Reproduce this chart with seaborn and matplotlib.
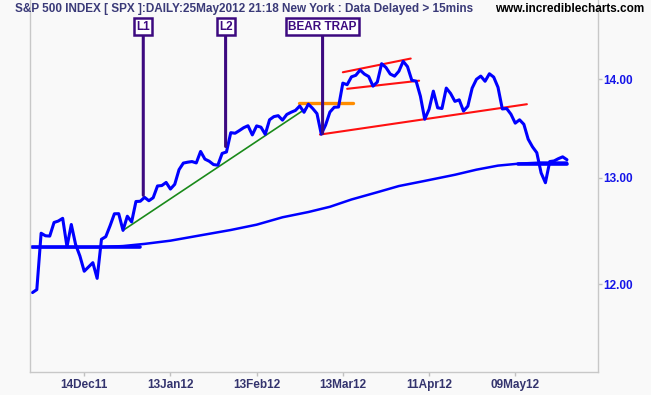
import matplotlib
matplotlib.use("Agg")
import numpy as np
import pandas as pd
import matplotlib.pyplot as plt
import seaborn as sns
from matplotlib.ticker import NullLocator

sns.set_theme(style="white")
plt.rcParams['font.family'] = ['Liberation Sans', 'DejaVu Sans']

# Daily closes (hundreds), trading day index 0 = 28 Nov 2011 ... 124 = 25 May 2012
close = [11.9255, 11.9519, 12.4696, 12.4458, 12.4428, 12.5708, 12.5847, 12.6101, 12.3435, 12.5519,
         12.3647, 12.2573, 12.1182, 12.1575, 12.1966, 12.0535, 12.4130, 12.4372, 12.5400, 12.6533,
         12.6543, 12.4964, 12.6302, 12.5760, 12.7706, 12.7730, 12.8106, 12.7781, 12.8070, 12.9208,
         12.9248, 12.9550, 12.8909, 12.9367, 13.0804, 13.1450, 13.1538, 13.1600, 13.1465, 13.2606,
         13.1843, 13.1633, 13.1301, 13.1241, 13.2409, 13.2554, 13.4490, 13.4433, 13.4705, 13.4996,
         13.5195, 13.4264, 13.5177, 13.5050, 13.4323, 13.5804, 13.6123, 13.6221, 13.5766, 13.6346,
         13.6574, 13.6759, 13.7218, 13.6568, 13.7409, 13.6963, 13.6433, 13.4336, 13.5263, 13.6591,
         13.7087, 13.7109, 13.9595, 13.9428, 14.0260, 14.0417, 14.0975, 14.0552, 14.0289, 13.9278,
         13.9711, 14.1651, 14.1252, 14.0554, 14.0328, 14.0847, 14.1904, 14.1338, 13.9896, 13.9808,
         13.8220, 13.5859, 13.6871, 13.8757, 13.7026, 13.6957, 13.9078, 13.8514, 13.7692, 13.7853,
         13.6694, 13.7197, 13.9069, 13.9998, 14.0336, 13.9791, 14.0582, 14.0231, 13.9157, 13.6910,
         13.6958, 13.6372, 13.5458, 13.5799, 13.5339, 13.3835, 13.3066, 13.2480, 13.0486, 12.9522,
         13.1599, 13.1663, 13.1886, 13.2068, 13.1782]
day = list(range(len(close)))

# Moving average
ma_day = [0, 5, 10, 16, 21, 26, 32, 39, 46, 52, 58, 64, 69, 74, 80, 85, 91, 98, 103, 108, 113, 118, 124]
ma_val = [12.34, 12.34, 12.34, 12.34, 12.35, 12.37, 12.40, 12.45, 12.50, 12.55, 12.62, 12.67, 12.72,
          12.79, 12.86, 12.92, 12.97, 13.03, 13.08, 13.12, 13.14, 13.15, 13.15]

# Horizontal blue lines (start day, end day, level)
hline_start = [0, 112.6]
hline_end = [25, 124]
hline_level = [12.34, 13.14]

# Green trendline
green_x = [21, 63.6]
green_y = [12.4964, 13.70]

# Orange resistance
orange_x = [61.9, 74.4]
orange_y = [13.75, 13.75]

# Red lines: (x0, x1, y0, y1)
red_x0 = [66.7, 72.0, 73.0]
red_x1 = [114.7, 87.75, 89.7]
red_y0 = [13.43, 14.074, 13.90]
red_y1 = [13.74, 14.22, 13.985]

# Label callouts
label_text = ["L1", "L2", "BEAR TRAP"]
label_x = [25.7, 44.8, 67.3]
label_y = [12.83, 13.31, 13.44]

xtick_days = [12, 32, 52, 72, 92, 112]
xtick_labels = ["14Dec11", "13Jan12", "13Feb12", "13Mar12", "11Apr12", "09May12"]
ytick_vals = [12, 13, 14]
ytick_labels = ["12.00", "13.00", "14.00"]

W, H = 651, 395
bg = '#F9F9F9'
fig = plt.figure(figsize=(W / 100, H / 100), dpi=100, facecolor=bg)
ax = fig.add_axes([30 / W, 23 / H, 568 / W, 372 / H])
ax.set_facecolor(bg)
ax.set_yscale('log')

price_df = pd.DataFrame({"day": day, "close": close})
ma_df = pd.DataFrame({"day": ma_day, "ma": ma_val})

sns.lineplot(data=ma_df, x="day", y="ma", ax=ax, color='#0000FF', lw=1.8, legend=False)
for s, e, lv in zip(hline_start, hline_end, hline_level):
    sns.lineplot(x=[s, e], y=[lv, lv], ax=ax, color='#0000FF', lw=2.6, legend=False)

sns.lineplot(x=green_x, y=green_y, ax=ax, color='#1A8A1A', lw=1.2, legend=False)
sns.lineplot(x=orange_x, y=orange_y, ax=ax, color='#FF8C00', lw=2.4, legend=False)
for x0, x1, y0, y1 in zip(red_x0, red_x1, red_y0, red_y1):
    sns.lineplot(x=[x0, x1], y=[y0, y1], ax=ax, color='#FF1010', lw=1.5, legend=False)

sns.lineplot(data=price_df, x="day", y="close", ax=ax, color='#0000FF', lw=2.2, legend=False)

purple = '#3D0A80'
for t, x, y in zip(label_text, label_x, label_y):
    ax.annotate(t, xy=(x, y), xytext=(x, 1 - 26.5 / 372), xycoords='data',
                textcoords=ax.get_xaxis_transform(), ha='center', va='center',
                fontsize=8.5, fontweight='bold', color=purple,
                bbox=dict(boxstyle='square,pad=0.18', fc='white', ec=purple, lw=1.8),
                arrowprops=dict(arrowstyle='-', color=purple, lw=2.2, shrinkA=0, shrinkB=0))

ax.set_xlim(-0.58, 131.2)
ax.set_ylim(11.234, 14.86)
ax.set_xlabel("")
ax.set_ylabel("")

ax.set_xticks(xtick_days)
ax.set_xticklabels(xtick_labels, fontsize=8.5, fontweight='bold', color='#34346E')
ax.yaxis.tick_right()
ax.set_yticks(ytick_vals)
ax.set_yticklabels(ytick_labels, fontsize=8.5, fontweight='bold', color='#1515E8')
ax.yaxis.set_minor_locator(NullLocator())
ax.tick_params(axis='x', direction='out', length=3, width=1, color='#C0C0C0', pad=2, bottom=True)
ax.tick_params(axis='y', direction='out', length=3, width=1, color='#C0C0C0', pad=1, right=True, left=False)

for side in ['left', 'right', 'bottom']:
    ax.spines[side].set_color('#C8C8C8')
    ax.spines[side].set_linewidth(1.0)
ax.spines['top'].set_visible(False)

fig.text(14.6 / W, 1 - 9 / H, "S&P 500 INDEX [ SPX ]:DAILY:25May2012 21:18 New York : Data Delayed > 15mins",
         ha='left', va='center', fontsize=8.5, fontweight='bold', color='#3A3A78')
fig.text(644 / W, 1 - 9 / H, "www.incrediblecharts.com", ha='right', va='center',
         fontsize=8.5, fontweight='bold', color='black')

fig.savefig("out.png", dpi=100, facecolor=bg)
